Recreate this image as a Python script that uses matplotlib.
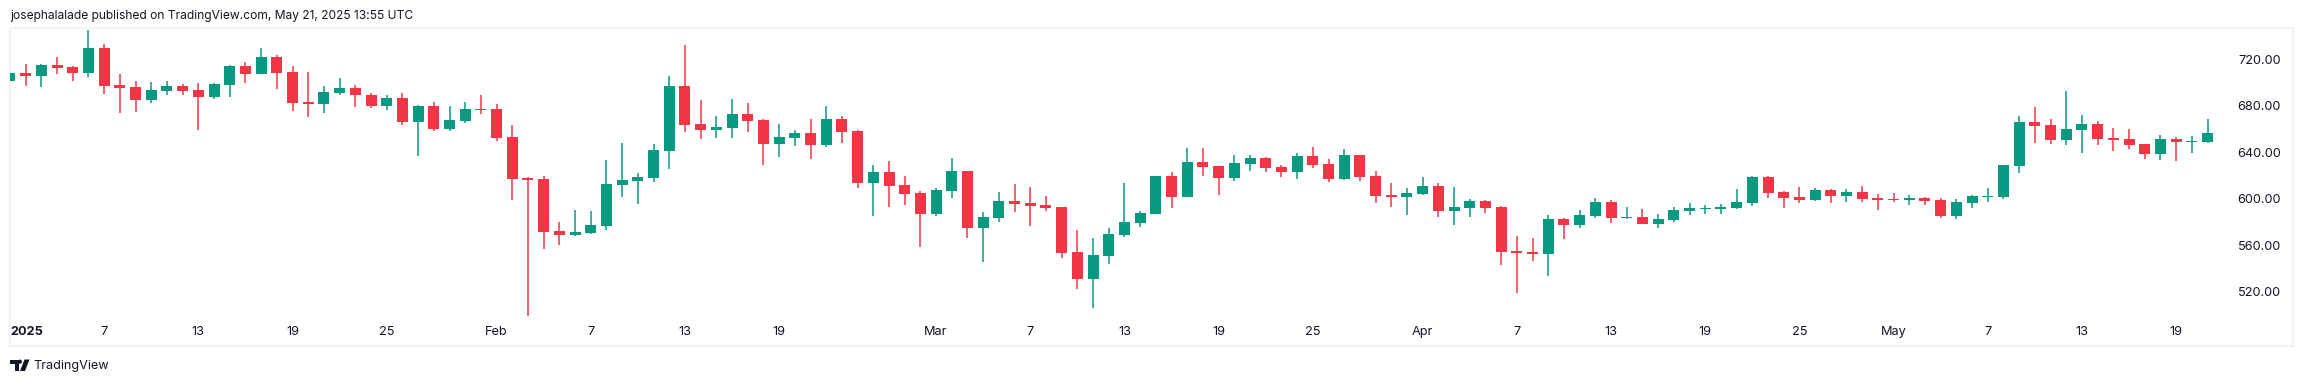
import matplotlib
matplotlib.use("Agg")
import matplotlib.pyplot as plt
from matplotlib.patches import Polygon

opens = [701.4,708.3,705.7,715.1,713.4,708.3,729.8,697.9,696.2,685.0,692.8,697.1,693.6,687.6,697.9,714.3,707.4,722.0,709.1,683.3,681.6,691.0,695.3,689.3,679.9,686.7,666.1,679.9,660.1,666.9,677.3,
         677.3,653.2,617.9,617.0,572.3,568.8,570.5,576.6,611.8,615.3,617.9,641.1,697.1,664.4,659.2,660.9,673.0,667.8,647.1,652.3,656.6,646.3,668.7,658.3,613.6,623.0,611.8,605.0,
         586.9,606.7,623.9,574.8,583.4,598.1,596.4,594.6,592.9,554.2,530.9,550.7,568.8,579.1,586.9,619.6,601.5,631.6,628.2,617.9,629.9,635.1,627.3,623.0,636.8,629.9,617.0,637.7,619.6,603.2,601.5,
         604.1,611.0,589.5,592.0,598.1,592.9,555.0,554.2,552.5,582.6,577.4,585.2,597.2,583.4,584.3,578.3,581.7,589.5,591.2,591.2,592.0,596.4,618.7,605.8,601.5,598.9,607.5,602.4,605.8,600.7,
         599.8,598.9,600.7,598.9,585.2,596.4,601.5,601.5,628.2,666.1,663.5,650.6,659.2,664.4,652.3,651.4,647.1,638.5,651.4,648.9,648.9]
highs = [708.3,716.0,716.0,722.0,714.3,745.3,733.2,707.4,701.4,700.5,701.4,698.8,699.7,699.7,715.1,717.7,729.8,723.8,714.3,709.1,697.1,704.0,697.9,691.0,689.3,691.0,680.7,683.3,679.9,683.3,689.3,
         681.6,663.5,618.7,619.6,580.0,590.3,589.5,633.4,648.0,622.2,647.1,705.7,732.4,685.0,671.2,685.9,682.4,668.7,664.4,659.2,668.7,679.9,671.2,659.2,629.1,632.5,619.6,606.7,
         609.3,635.1,623.9,588.6,605.8,612.7,610.1,602.4,592.9,573.1,566.2,574.8,613.6,589.5,619.6,623.0,643.7,643.7,628.2,637.7,637.7,636.0,629.1,639.4,644.6,634.2,642.8,637.7,623.9,613.6,609.3,
         618.7,613.6,610.1,599.8,598.9,593.8,567.9,566.2,586.0,583.4,590.3,600.7,598.9,592.9,591.2,586.9,592.9,596.4,594.6,595.5,608.4,619.6,619.6,606.7,610.1,609.3,608.4,608.4,611.0,604.1,
         605.0,603.2,601.5,600.7,599.8,603.2,609.3,629.1,671.2,679.0,668.7,692.8,672.1,666.9,660.9,660.1,647.1,654.9,653.2,654.0,668.7]
lows = [701.4,697.1,696.2,707.4,701.4,704.8,690.2,673.8,674.7,682.4,689.3,689.3,659.2,685.9,687.6,699.7,707.4,694.5,675.5,670.4,673.8,689.3,679.0,678.1,676.4,663.5,636.8,658.3,658.3,665.2,673.0,
        649.7,598.9,499.1,556.8,560.2,567.9,569.7,573.1,601.5,595.5,614.4,625.6,657.5,651.4,652.3,652.3,657.5,629.1,636.0,645.4,634.2,644.6,648.0,609.3,585.2,592.9,594.6,558.5,
        585.2,600.7,566.2,545.6,580.0,588.6,576.6,589.5,549.0,522.3,506.0,543.8,567.1,575.7,586.9,592.0,601.5,619.6,603.2,615.3,623.9,623.0,618.7,617.0,626.5,614.4,616.2,615.3,596.4,592.9,586.0,
        603.2,584.3,577.4,584.3,587.7,543.0,518.9,546.4,533.5,565.4,574.8,583.4,579.1,582.6,578.3,574.8,580.0,586.0,586.9,586.9,591.2,593.8,600.7,592.0,596.4,598.1,596.4,597.2,597.2,590.3,
        597.2,594.6,594.6,583.4,582.6,592.0,597.2,599.8,622.2,648.0,647.1,646.3,639.4,646.3,641.1,642.8,634.2,633.4,632.5,639.4,648.0]
closes = [708.3,705.7,715.1,712.6,708.3,729.8,697.1,695.3,685.0,693.6,697.1,692.8,687.6,698.8,714.3,707.4,722.0,708.3,682.4,681.6,691.9,695.3,689.3,679.9,686.7,666.1,679.9,660.1,667.8,677.3,676.4,
          652.3,617.0,616.2,571.4,568.8,571.4,577.4,612.7,616.2,618.7,642.0,697.1,663.5,659.2,661.8,673.0,666.9,647.1,653.2,656.6,646.3,668.7,657.5,613.6,623.0,611.0,604.1,586.9,
          607.5,623.9,574.8,584.3,598.1,595.5,593.8,592.0,553.3,530.9,551.6,569.7,580.0,587.7,619.6,601.5,631.6,627.3,617.9,630.8,635.1,626.5,623.0,636.8,629.1,617.0,637.7,618.7,602.4,601.5,605.0,
          611.0,589.5,592.9,598.1,592.0,554.2,553.3,552.5,582.6,577.4,586.0,597.2,583.4,584.3,578.3,582.6,590.3,592.0,592.0,592.9,597.2,618.7,605.0,600.7,598.9,607.5,602.4,605.8,599.8,598.9,
          598.9,600.7,598.1,585.2,597.2,602.4,602.4,629.1,666.1,662.6,650.6,660.1,664.4,651.4,650.6,646.3,638.5,651.4,648.9,649.7,656.6]

time_tick_pos = [0,6,12,18,24,31,37,43,49,59,65,71,77,83,90,96,102,108,114,120,126,132,138]
time_tick_labels = ['2025','7','13','19','25','Feb','7','13','19','Mar','7','13','19','25','Apr','7','13','19','25','May','7','13','19']
price_ticks = [520,560,600,640,680,720]
title_text = 'josephalalade published on TradingView.com, May 21, 2025 13:55 UTC'
brand_text = 'TradingView'

UP = '#089981'
DOWN = '#F23645'
TEXT = '#131722'
FRAME = '#F3F3F3'
FONT = ['Inter', 'DejaVu Sans']

W, H = 2304, 382
fig = plt.figure(figsize=(W / 100, H / 100), dpi=100, facecolor='white')
L, R, T, B = 10, 2293, 28, 346
ax = fig.add_axes([L / W, 1 - B / H, (R - L) / W, (B - T) / H])
X0, STEP = 9.5, 15.7
ax.set_xlim((L - X0) / STEP, (R - X0) / STEP)
PX_PER_USD = 1.162
ax.set_ylim(520 - (B - 291.7) / PX_PER_USD, 720 + (59.3 - T) / PX_PER_USD)

xs = list(range(len(opens)))
colors = [UP if c >= o else DOWN for o, c in zip(opens, closes)]
ax.vlines(xs, lows, highs, colors=colors, linewidth=1.1, zorder=2)
ax.bar(xs, [abs(c - o) for o, c in zip(opens, closes)],
       bottom=[min(o, c) for o, c in zip(opens, closes)],
       width=11 / STEP, color=colors, linewidth=0, zorder=3)

for s in ax.spines.values():
    s.set_color(FRAME)
    s.set_linewidth(1.5)

ax.set_xticks(time_tick_pos)
ax.set_xticklabels(time_tick_labels, fontsize=9.2, family=FONT, color=TEXT)
ax.tick_params(axis='x', length=0, pad=-14.2)
first = ax.get_xticklabels()[0]
first.set_ha('left')
first.set_fontweight('bold')
first.set_x(0.1)

ax.yaxis.tick_right()
ax.set_yticks(price_ticks)
ax.set_yticklabels([f'{p:.2f}' for p in price_ticks], fontsize=9.2, family=FONT, color=TEXT, ha='right')
ax.tick_params(axis='y', length=0, pad=-8.6)

def tx(x):
    return x / W
def ty(y):
    return 1 - y / H

fig.text(tx(10), ty(16.5), title_text, fontsize=8.65, family=FONT, color=TEXT, va='center', ha='left')
fig.text(tx(33.5), ty(365.5), brand_text, fontsize=9.1, family=FONT, color=TEXT, va='center', ha='left')

# logo
logo_polys = [
    [(10, 359.5), (19, 359.5), (19, 371), (14.5, 371), (14.5, 364), (10, 364)],
    [(24.5, 359.5), (29.5, 359.5), (25, 371), (20, 371)],
]
for pts in logo_polys:
    fig.add_artist(Polygon([(tx(x), ty(y)) for x, y in pts], closed=True, transform=fig.transFigure,
                           facecolor=TEXT, edgecolor='none'))
fig.add_artist(Polygon([(tx(19.8 + dx), ty(361.7 + dy)) for dx, dy in
                        [(0, -2.2), (1.6, -1.6), (2.2, 0), (1.6, 1.6), (0, 2.2), (-1.6, 1.6), (-2.2, 0), (-1.6, -1.6)]],
                       closed=True, transform=fig.transFigure, facecolor=TEXT, edgecolor='none'))

fig.savefig('out.png', dpi=100, facecolor='white')
